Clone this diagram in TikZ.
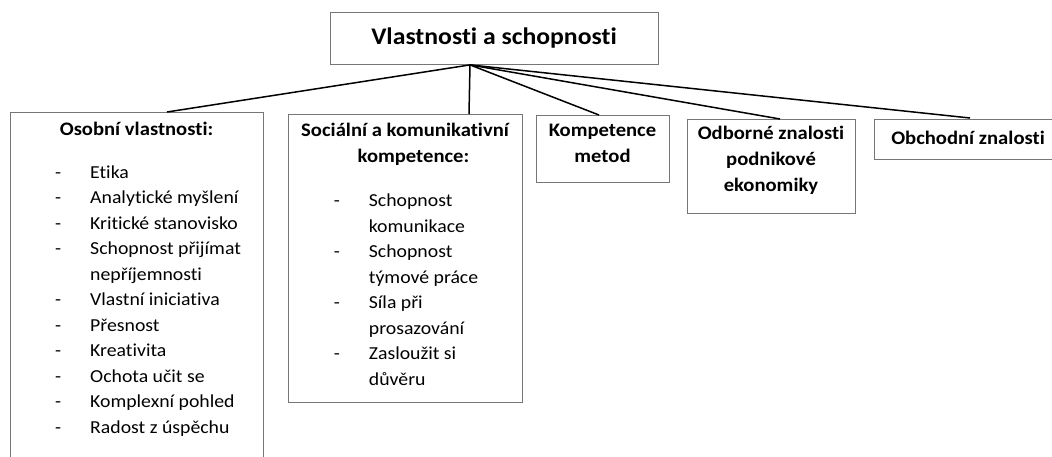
\documentclass[tikz,border=0pt]{standalone}
\usepackage{fontspec}
\setmainfont{Carlito}[FakeStretch=1.08, Ligatures=NoCommon]
\usetikzlibrary{calc}
\definecolor{boxline}{RGB}{118,118,118}
\newcommand\listrow[1]{\makebox[64pt][c]{-}#1}
\begin{document}
\begin{tikzpicture}[x=1pt,y=-1pt,
  box/.style={draw=boxline, line width=0.9pt, rectangle, inner sep=0pt, anchor=north west},
  link/.style={draw=black, line width=1.5pt},
  listtext/.style={anchor=base west, inner sep=0pt, font=\fontsize{18.3}{25.5}\selectfont},
  headtext/.style={anchor=base, inner sep=0pt, font=\fontsize{19.1}{26}\selectfont\bfseries},
  titletext/.style={anchor=base, inner sep=0pt, font=\fontsize{23.8}{28}\selectfont\bfseries},
]
\useasboundingbox (0,0) rectangle (1052,456);
\clip (0,0) rectangle (1052,456);

% boxes
\node[box, minimum width=328pt, minimum height=52pt] (top) at (330,12) {};
\node[box, minimum width=253pt, minimum height=400pt] (lbox) at (10,112) {};
\node[box, minimum width=234pt, minimum height=288pt] (mbox) at (288,114) {};
\node[box, minimum width=133pt, minimum height=67pt] (kbox) at (536,115) {};
\node[box, minimum width=168pt, minimum height=94pt] (obox) at (687,119) {};
\node[box, minimum width=200pt, minimum height=40pt] (zbox) at (874,119) {};

% connectors from one point under the title
\coordinate (hub) at ($(top.south west)+(140,0)$);
\draw[link] (hub) -- ($(lbox.north west)+(157,0)$);
\draw[link] (hub) -- ($(mbox.north west)+(181,0)$);
\draw[link] (hub) -- ($(kbox.north west)+(63,0)$);
\draw[link] (hub) -- ($(obox.north west)+(93,0)$);
\draw[link] (hub) -- ($(zbox.north west)+(96,-1)$);

% title
\node[titletext] (title) at (494,44) {Vlastnosti a schopnosti};

% personal qualities
\node[headtext] (lhead) at (136.5,135) {Osobní vlastnosti:};
\node[listtext] (llist) at (26,178.3) {\begin{tabular}[t]{@{}l@{}}
\listrow{Etika}\\
\listrow{Analytické myšlení}\\
\listrow{Kritické stanovisko}\\
\listrow{Schopnost přijímat}\\
\hspace*{64pt}nepříjemnosti\\
\listrow{Vlastní iniciativa}\\
\listrow{Přesnost}\\
\listrow{Kreativita}\\
\listrow{Ochota učit se}\\
\listrow{Komplexní pohled}\\
\listrow{Radost z úspěchu}
\end{tabular}};

% social and communicative competence
\node[headtext] (mhead1) at (405,136) {Sociální a komunikativní};
\node[headtext] (mhead2) at (413.5,162) {kompetence:};
\node[listtext] (mlist) at (304.7,206.7) {\begin{tabular}[t]{@{}l@{}}
\listrow{Schopnost}\\
\hspace*{64pt}komunikace\\
\listrow{Schopnost}\\
\hspace*{64pt}týmové práce\\
\listrow{Síla při}\\
\hspace*{64pt}prosazování\\
\listrow{Zasloužit si}\\
\hspace*{64pt}důvěru
\end{tabular}};

% remaining categories
\node[headtext] (khead) at (602.5,136) {\begin{tabular}[t]{@{}c@{}}Kompetence\\metod\end{tabular}};
\node[headtext] (ohead) at (771,139.5) {\begin{tabular}[t]{@{}c@{}}Odborné znalosti\\podnikové\\ekonomiky\end{tabular}};
\node[headtext] (zhead) at (968,144) {Obchodní znalosti};
\end{tikzpicture}
\end{document}
